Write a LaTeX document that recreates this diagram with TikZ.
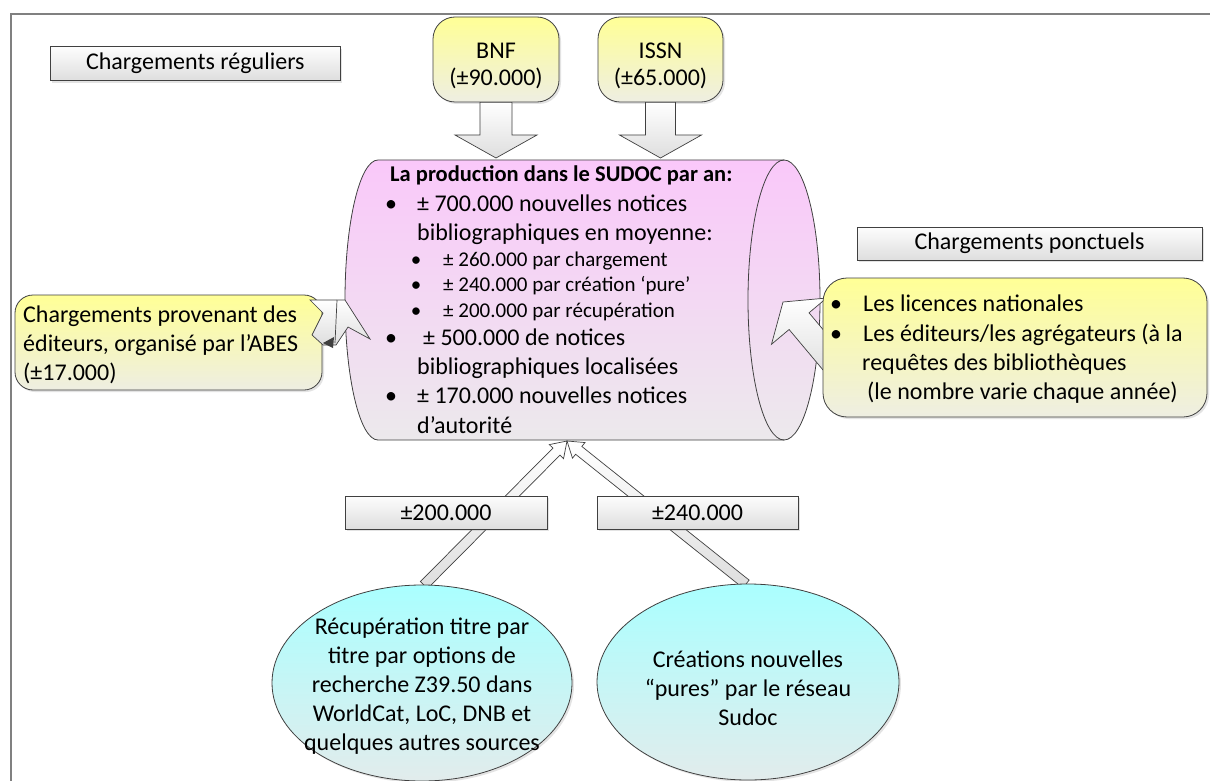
\documentclass[tikz,border=0pt]{standalone}
\usepackage{fontspec}
\setmainfont{Carlito}
\usetikzlibrary{calc,shapes.geometric,shadows}

\definecolor{framec}{RGB}{128,128,128}
\definecolor{edgec}{RGB}{64,64,64}
\definecolor{yelT}{RGB}{255,255,150}
\definecolor{yelB}{RGB}{238,238,226}
\definecolor{pinkT}{RGB}{250,200,250}
\definecolor{pinkB}{RGB}{236,233,236}
\definecolor{cyanT}{RGB}{170,255,255}
\definecolor{cyanB}{RGB}{226,236,236}
\definecolor{grayT}{RGB}{253,253,253}
\definecolor{grayB}{RGB}{222,222,222}

\newcommand{\fmain}{\fontsize{24}{29}\selectfont}
\newcommand{\fsub}{\fontsize{21}{25.5}\selectfont}
\newcommand{\fhead}{\fontsize{22.5}{27}\selectfont\bfseries}

\newcommand{\blockarr}[6]{%
  \coordinate (#1h) at ($(#3)!#6!(#2)$);
  \draw[blockarrow] ($(#2)!#4!90:(#3)$) -- ($(#1h)!#4!90:(#3)$) -- ($(#1h)!#5!90:(#3)$) -- (#3)
     -- ($(#1h)!#5!-90:(#3)$) -- ($(#1h)!#4!-90:(#3)$) -- ($(#2)!#4!-90:(#3)$) -- cycle;
}

\tikzset{
  shad/.style={drop shadow={shadow xshift=2pt,shadow yshift=-2pt,opacity=0.22}},
  lbl/.style={rectangle,draw=edgec,line width=0.8pt,top color=grayT,bottom color=grayB,inner sep=0pt,font=\fmain,shad},
  ybox/.style={rectangle,draw=edgec,line width=0.8pt,top color=yelT,bottom color=yelB,inner sep=0pt,font=\fmain,shad},
  cbox/.style={ellipse,draw=edgec,line width=0.8pt,top color=cyanT,bottom color=cyanB,inner sep=0pt,shad},
  blockarrow/.style={draw=edgec,line width=0.7pt,line join=miter,top color=white,bottom color=grayB},
  txt/.style={inner sep=0pt,anchor=base west,font=\fmain},
  subt/.style={inner sep=0pt,anchor=base west,font=\fsub},
  bul/.style={inner sep=0pt,anchor=base,font=\fmain},
  subbul/.style={inner sep=0pt,anchor=base,font=\fsub},
  ctxt/.style={inner sep=0pt,align=center,font=\fmain},
}

\begin{document}
\begin{tikzpicture}[x=1pt,y=-1pt]
\useasboundingbox (0,0) rectangle (1210,781);
\fill[white] (0,0) rectangle (1210,781);

% frame
\draw[framec,line width=2pt] (11,800) -- (11,14) -- (1220,14);

% cylinder
\draw[draw=edgec,line width=0.8pt,top color=pinkT,bottom color=pinkB]
  (378,160) -- (784,160) arc[start angle=-90,end angle=90,x radius=36,y radius=140]
  -- (378,440) arc[start angle=90,end angle=270,x radius=33,y radius=140] -- cycle;
\draw[edgec,line width=0.8pt] (784,160) arc[start angle=270,end angle=90,x radius=36,y radius=140];
\coordinate (cyl) at (581,300);

% top boxes
\node[lbl,minimum width=290pt,minimum height=34pt] (reg) at (195.3,63.7) {Chargements réguliers};
\node[ybox,rounded corners=22pt,minimum width=126pt,minimum height=85pt] (bnf) at (496,59.5) {};
\node[bul] (bnft1) at (496,59) {BNF};
\node[bul] (bnft2) at (496,86) {(±90.000)};
\node[ybox,rounded corners=22pt,minimum width=125pt,minimum height=85pt] (issn) at (660.5,59.5) {};
\node[bul] (issnt1) at (660.5,59) {ISSN};
\node[bul] (issnt2) at (660.5,86) {(±65.000)};

% top arrows
\coordinate (bnftip) at (496,158);
\coordinate (issntip) at (660.5,158);
\blockarr{ab}{bnf.south}{bnftip}{16pt}{41pt}{23pt}
\blockarr{ai}{issn.south}{issntip}{15pt}{41pt}{23pt}

% bottom arrows
\coordinate (tipb) at (567,441);
\coordinate (t1) at (424,585);
\coordinate (t2) at (746,584);
\blockarr{b1}{t1}{tipb}{5pt}{10pt}{15pt}
\blockarr{b2}{t2}{tipb}{5pt}{10pt}{15pt}
\node[cbox,minimum width=300pt,minimum height=196pt] (e1) at (422,683) {};
\node[cbox,minimum width=302pt,minimum height=196pt] (e2) at (748,682) {};
\node[ctxt] (e1t) at (422,686) {Récupération titre par\\titre par options de\\recherche Z39.50 dans\\WorldCat, LoC, DNB et\\quelques autres sources};
\node[ctxt] (e2t) at (748,688) {Créations nouvelles\\“pures” par le réseau\\Sudoc};

\node[lbl,minimum width=202pt,minimum height=33pt] (n200) at (446,512.5) {±200.000};
\node[lbl,minimum width=201pt,minimum height=33pt] (n240) at (697.5,512.5) {±240.000};

% left callout
\node[ybox,rounded corners=18pt,minimum width=307pt,minimum height=95pt] (lcall) at (168.5,342.5) {};
\node[txt] (l1) at (23,322) {Chargements provenant des};
\node[txt] (l2) at (23,351) {éditeurs, organisé par l’ABES};
\node[txt] (l3) at (23,380) {(±17.000)};
\draw[blockarrow] (310,300) -- (345,300) -- (370,339) -- (348,327) -- (336,345) -- (323,345)
   -- (312,335) -- (323,313) -- cycle;
\draw[edgec,line width=0.7pt] (337,300) -- (335,343);
\fill[edgec] (323,343) -- (334,337) -- (333,348) -- cycle;

% right side
\node[lbl,minimum width=345pt,minimum height=33pt] (ponc) at (1029.5,243.5) {Chargements ponctuels};
\coordinate (rtail) at (840,370);
\coordinate (rtip) at (783,302);
\blockarr{ar}{rtail}{rtip}{13pt}{36pt}{25pt}
\node[ybox,rounded corners=24pt,minimum width=384pt,minimum height=139pt] (rcall) at (1015,347.5) {};
\node[bul] (rb1) at (836,311) {•};
\node[bul] (rb2) at (836,341) {•};
\node[txt] (r1) at (863,311) {Les licences nationales};
\node[txt] (r2) at (863,341) {Les éditeurs/les agrégateurs (à la};
\node[txt] (r3) at (862,370) {requêtes des bibliothèques};
\node[txt] (r4) at (867,399) {(le nombre varie chaque année)};

% cylinder text
\node[inner sep=0pt,anchor=base west,font=\fhead] (h0) at (390,181) {La production dans le SUDOC par an:};
\node[bul] (cb1) at (391,211) {•};
\node[txt] (c1) at (417,211) {± 700.000 nouvelles notices};
\node[txt] (c2) at (417,240) {bibliographiques en moyenne:};
\node[subbul] (sb1) at (416,266) {•};
\node[subt] (s1) at (443,266) {± 260.000 par chargement};
\node[subbul] (sb2) at (416,291) {•};
\node[subt] (s2) at (443,291) {± 240.000 par création ‘pure’};
\node[subbul] (sb3) at (416,317) {•};
\node[subt] (s3) at (443,317) {± 200.000 par récupération};
\node[bul] (cb2) at (391,345) {•};
\node[txt] (c3) at (423,345) {± 500.000 de notices};
\node[txt] (c4) at (417,374) {bibliographiques localisées};
\node[bul] (cb3) at (391,403) {•};
\node[txt] (c5) at (417,403) {± 170.000 nouvelles notices};
\node[txt] (c6) at (417,433) {d’autorité};
\end{tikzpicture}
\end{document}
